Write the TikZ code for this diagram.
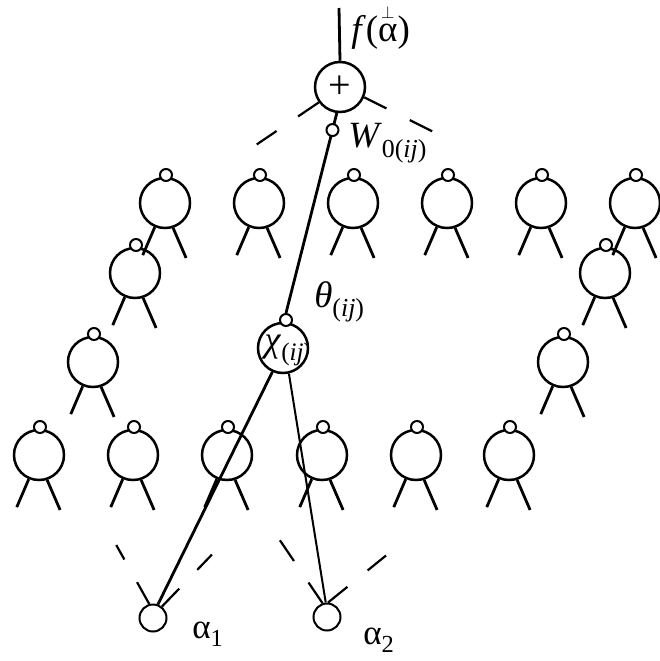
\documentclass[tikz,border=0pt]{standalone}
\usepackage{fontspec}
\setmainfont{Liberation Serif}
\usetikzlibrary{calc}

\newcommand{\perpalpha}{\ooalign{α\cr\hidewidth\raisebox{0.6em}{\fontsize{18}{18}\selectfont$\perp$}\hidewidth\cr}}

\begin{document}
\begin{tikzpicture}[
  x=1pt,
  y=-1pt,
  line width=2.5pt,
  unit/.style={
    draw,
    circle,
    minimum size=50pt,
    inner sep=0pt
  },
  port/.style={
    draw,
    circle,
    fill=white,
    minimum size=12pt,
    inner sep=0pt,
    line width=2pt
  },
  input/.style={
    draw,
    circle,
    minimum size=27pt,
    inner sep=0pt,
    line width=2pt
  },
  leg/.style={line width=2.8pt},
  wire/.style={line width=2.8pt},
  fan/.style={
    line width=2.2pt,
    dash pattern=on 25pt off 26pt
  },
  lbl/.style={
    font=\fontsize{37}{40}\selectfont,
    inner sep=0pt
  }
]
\useasboundingbox (0,0) rectangle (660,661);

%-----------------------------
% Hidden units
%-----------------------------
\foreach \i/\x/\y in {t1/165/203, t2/259/203, t3/353/203, t4/447/203, t5/541/203, t6/635/203,
                      m1/135/273, m2/605/273,
                      l1/93/362, l2/563/362,
                      b1/39/455, b2/133/455, b3/227/455, b4/322/455, b5/416/455, b6/509/455}{
  \node[unit] (\i) at (\x,\y) {};
  \node[port] (\i-p) at ($(\i.center)+(1,-28)$) {};
  \draw[leg] (\i.247) -- ++(-12,28);
  \draw[leg] (\i.288) -- ++(13,30);
}

%-----------------------------
% Output and inputs
%-----------------------------
\node[unit] (sum) at (340,87) {\fontsize{40}{40}\selectfont +};
\coordinate (out) at (339,8);
\node[input] (a1) at (153,618) {};
\node[input] (a2) at (327,617) {};

\node[unit, path picture={
  \node[anchor=west, inner sep=0pt, font=\fontsize{36}{38}\selectfont]
    at ($(path picture bounding box.west)+(1,2)$) {\textit{χ}\textsubscript{(\textit{ij})}};
}] (chi) at (283,348) {};
\node[port] (theta) at (286,320) {};

%-----------------------------
% Connections
%-----------------------------
\draw[wire] (sum.north) -- (out);
\draw[wire] (sum.263) -- node[port, pos=0.085] (wport) {} (theta.north);
\draw[wire] (chi.246) -- (a1.70);
\draw[line width=2pt] (chi.283) -- (a2.95);

\draw[fan] (sum.216) -- ++(-62,42);
\draw[fan] (sum.337) -- ++(72,36);
\draw[fan] (a1.105) -- ++(-33,-59);
\draw[fan] (a1.52) -- ++(50,-52);
\draw[fan] (a2.108) -- ++(-44,-65);
\draw[fan] (a2.86) -- ++(58,-47);

%-----------------------------
% Labels
%-----------------------------
\node[lbl, anchor=west] (flbl) at (350,32) {\textit{f}(\perpalpha)};
\node[lbl, anchor=west] (wlbl) at (347,143) {\textit{W}\textsubscript{0(\textit{ij})}};
\node[lbl, anchor=west] (tlbl) at (313,302) {\textit{θ}\textsubscript{(\textit{ij})}};
\node[lbl, anchor=west, font=\fontsize{35}{38}\selectfont] (a1lbl) at (191,634) {α\textsubscript{1}};
\node[lbl, anchor=west, font=\fontsize{35}{38}\selectfont] (a2lbl) at (362,640) {α\textsubscript{2}};

\end{tikzpicture}
\end{document}
